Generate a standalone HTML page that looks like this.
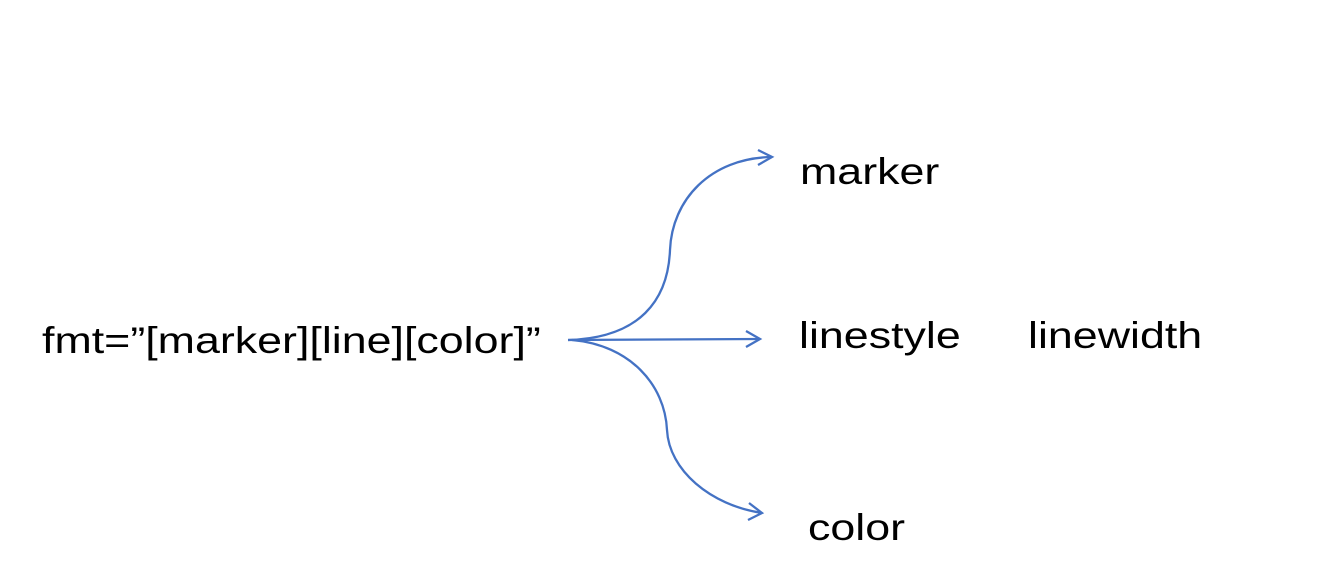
<!DOCTYPE html>
<html><head><style>
body{margin:0;width:1322px;height:586px;background:#fff;overflow:hidden;position:relative;font-family:"Liberation Sans",sans-serif;}
.t{position:absolute;font-size:37px;color:#000;white-space:nowrap;line-height:1;transform:scaleX(1.21);transform-origin:0 0;}
</style></head><body>
<div class="t" style="left:42px;top:322px;">fmt=”[marker][line][color]”</div>
<div class="t" style="left:800px;top:153px;">marker</div>
<div class="t" style="left:799px;top:317px;">linestyle</div>
<div class="t" style="left:1028px;top:317px;">linewidth</div>
<div class="t" style="left:808px;top:509px;">color</div>
<svg width="1322" height="586" style="position:absolute;left:0;top:0" fill="none" stroke="#4472c4" stroke-width="2.3">
<path d="M568,340 C640,338 668,300 670,250 C672,200 710,158 772,157"/>
<path d="M758,150 L772,157 L758,165"/>
<path d="M568,340 L760,339"/>
<path d="M746,331 L760,339 L746,347"/>
<path d="M572,340 C630,345 665,385 667,430 C669,470 710,505 762,513"/>
<path d="M749,503 L762,513 L748,520"/>
</svg>
</body></html>
